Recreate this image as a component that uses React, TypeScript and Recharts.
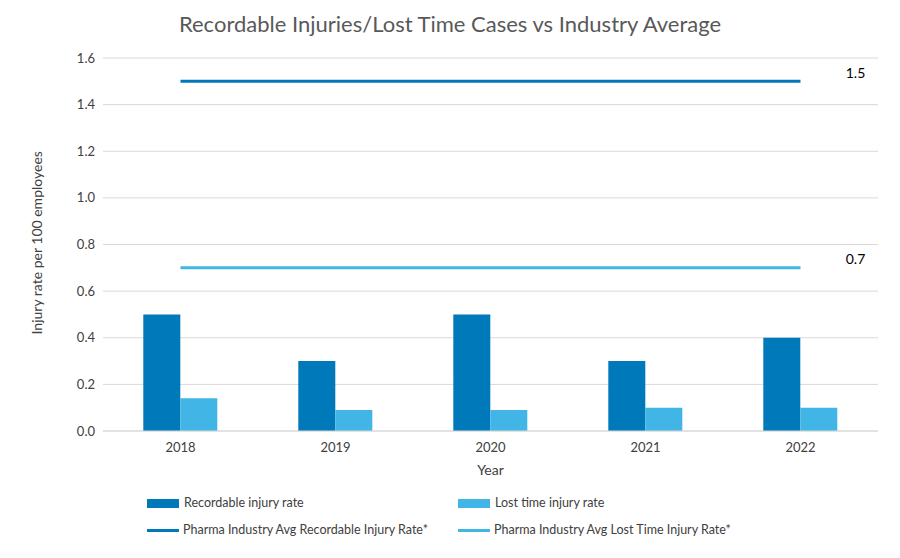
import { ComposedChart, Bar, Line, XAxis, YAxis, CartesianGrid, LabelList } from 'recharts'

const years = ['2018', '2019', '2020', '2021', '2022']
const recordable = [0.5, 0.3, 0.5, 0.3, 0.4]
const lostTime = [0.14, 0.09, 0.09, 0.1, 0.1]
const avgRecordable = [1.5, 1.5, 1.5, 1.5, 1.5]
const avgLostTime = [0.7, 0.7, 0.7, 0.7, 0.7]
const yTicks = [0, 0.2, 0.4, 0.6, 0.8, 1.0, 1.2, 1.4, 1.6]

const DARK = '#0079BA'
const LIGHT = '#41B5E6'
const FONT = 'Lato, "Open Sans", sans-serif'

const data = years.map((year, i) => ({
  year,
  recordable: recordable[i],
  lostTime: lostTime[i],
  avgRecordable: avgRecordable[i],
  avgLostTime: avgLostTime[i],
}))

function EndLabel(props: any) {
  const { x, y, index, value } = props
  if (index !== years.length - 1) return null
  return (
    <text x={x + 55} y={y - 7} fill="#000" fontSize={14} fontFamily={FONT} textAnchor="middle" dominantBaseline="middle">
      {value.toFixed(1)}
    </text>
  )
}

function Swatch({ color, line }: { color: string; line?: boolean }) {
  return line ? (
    <span style={{ display: 'inline-block', width: 32, height: 3, background: color, marginRight: 4, verticalAlign: 'middle' }} />
  ) : (
    <span style={{ display: 'inline-block', width: 32, height: 9, background: color, marginRight: 5, verticalAlign: 'middle' }} />
  )
}

export default function App() {
  const item = { position: 'absolute' as const, fontSize: 12.5, color: '#404040', fontFamily: FONT, whiteSpace: 'nowrap' as const }
  return (
    <div style={{ position: 'absolute', left: 0, top: 0, width: 900, height: 558, background: '#fff' }}>
      <div style={{ position: 'absolute', top: 10, width: 900, textAlign: 'center', fontSize: 22, color: '#595959', fontFamily: FONT }}>
        Recordable Injuries/Lost Time Cases vs Industry Average
      </div>
      <ComposedChart width={900} height={558} data={data} margin={{ top: 58, right: 22, bottom: 97, left: 43 }} barGap={0} barCategoryGap="26%">
        <CartesianGrid vertical={false} stroke="#d9d9d9" />
        <XAxis
          dataKey="year"
          tickLine={false}
          axisLine={{ stroke: '#d9d9d9' }}
          tick={{ fill: '#404040', fontSize: 13, fontFamily: FONT }}
          tickMargin={6}
          label={{ value: 'Year', position: 'insideBottom', offset: -14, fill: '#404040', fontSize: 14, fontFamily: FONT }}
        />
        <YAxis
          domain={[0, 1.6]}
          ticks={yTicks}
          tickFormatter={(v) => v.toFixed(1)}
          axisLine={false}
          tickLine={false}
          tick={{ fill: '#404040', fontSize: 13, fontFamily: FONT }}
          label={{ value: 'Injury rate per 100 employees', angle: -90, position: 'insideLeft', offset: -6, dy: 90, fill: '#404040', fontSize: 14, fontFamily: FONT }}
        />
        <Bar dataKey="recordable" fill={DARK} isAnimationActive={false} />
        <Bar dataKey="lostTime" fill={LIGHT} isAnimationActive={false} />
        <Line dataKey="avgRecordable" stroke={DARK} strokeWidth={3} dot={false} isAnimationActive={false}>
          <LabelList dataKey="avgRecordable" content={<EndLabel />} />
        </Line>
        <Line dataKey="avgLostTime" stroke={LIGHT} strokeWidth={3} dot={false} isAnimationActive={false}>
          <LabelList dataKey="avgLostTime" content={<EndLabel />} />
        </Line>
      </ComposedChart>
      <div style={{ ...item, left: 147, top: 495 }}><Swatch color={DARK} />Recordable injury rate</div>
      <div style={{ ...item, left: 458, top: 495 }}><Swatch color={LIGHT} />Lost time injury rate</div>
      <div style={{ ...item, left: 147, top: 522 }}><Swatch color={DARK} line />Pharma Industry Avg Recordable Injury Rate*</div>
      <div style={{ ...item, left: 458, top: 522 }}><Swatch color={LIGHT} line />Pharma Industry Avg Lost Time Injury Rate*</div>
    </div>
  )
}
